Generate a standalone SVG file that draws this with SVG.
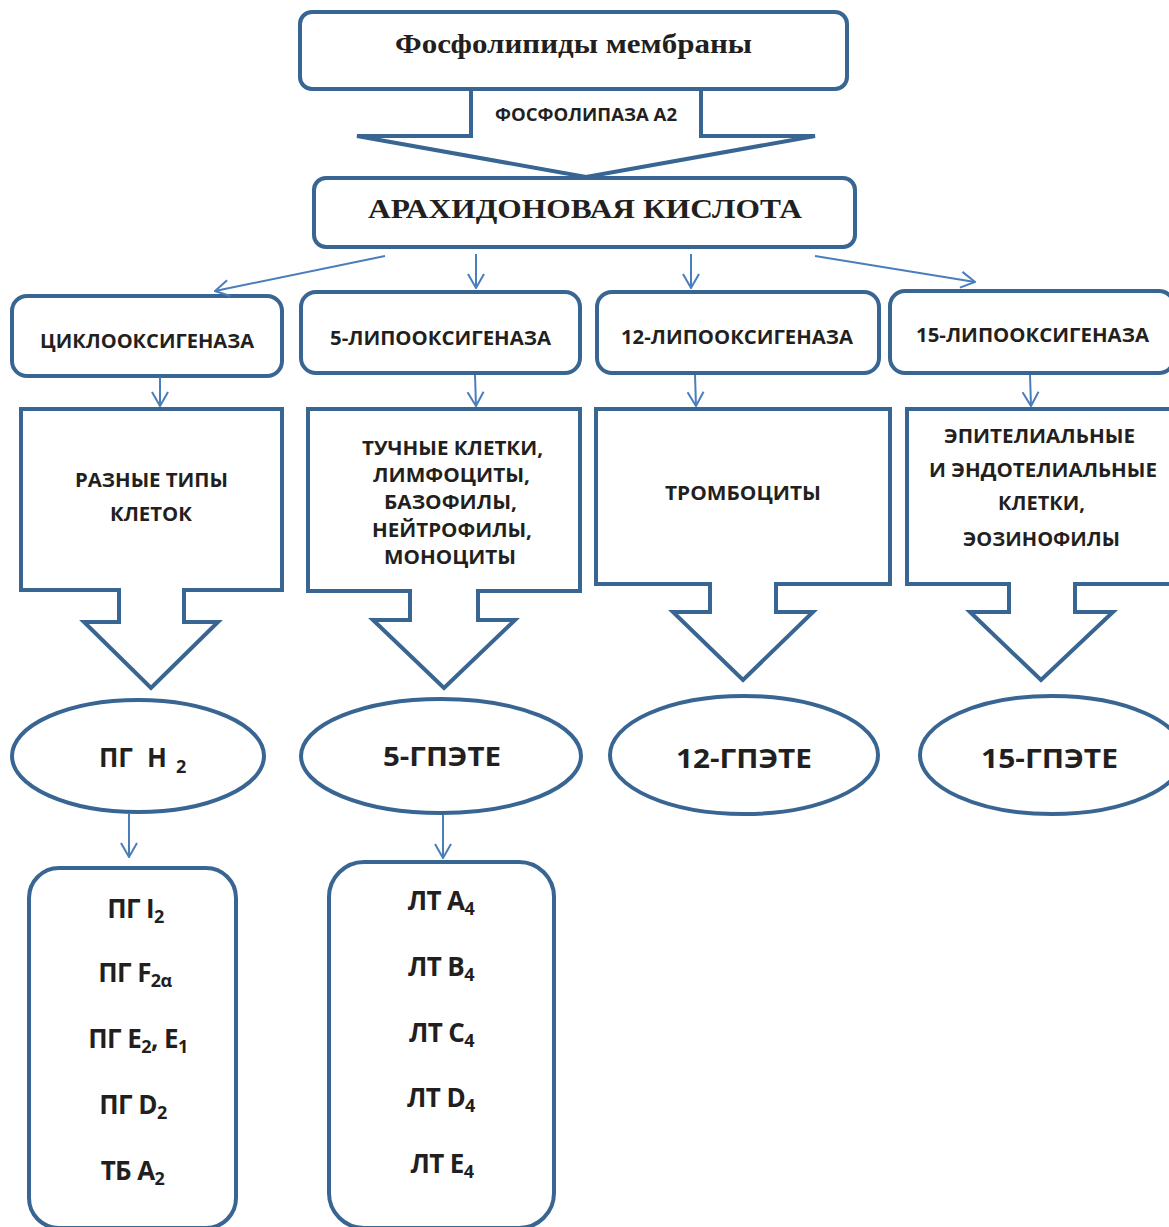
<svg xmlns="http://www.w3.org/2000/svg" width="1169" height="1227" viewBox="0 0 1169 1227">
<defs>
<style>
.box{fill:#fff;stroke:#386592;stroke-width:4}
.open{fill:none;stroke:#386592;stroke-width:4;stroke-linejoin:miter}
.conn{stroke:#4a7ebb;stroke-width:2;fill:none;marker-end:url(#ah)}
.t{font-family:"Open Sans","Noto Sans",sans-serif;font-weight:700;fill:#231f20;text-anchor:middle}
.s{font-family:"Liberation Serif","Times New Roman",serif;font-weight:700;fill:#231f20;text-anchor:middle}
.e{font-size:20px}
.m{font-size:26px}
.b{font-size:26px;letter-spacing:-0.6px}
.sub{font-size:18px;letter-spacing:-0.5px}
.sub2{font-size:18px}
</style>
<marker id="ah" markerUnits="userSpaceOnUse" markerWidth="16" markerHeight="20" viewBox="0 0 16 20" refX="15" refY="10" orient="auto">
<path d="M1,2 L15,10 L1,18" fill="none" stroke="#4a7ebb" stroke-width="2"/>
</marker>
</defs>
<rect width="1169" height="1227" fill="#fff"/>

<g id="phospholipids">
<rect class="box" x="300" y="12" width="547" height="77" rx="12"/>
<text class="s" x="573.5" y="53" font-size="28" textLength="357" lengthAdjust="spacingAndGlyphs">Фосфолипиды мембраны</text>
</g>

<g id="phospholipase">
<path class="open" d="M471,89 V136 H357 L586,177 L815,136 H701 V89"/>
<text class="t" x="586" y="121" font-size="18" textLength="182" lengthAdjust="spacingAndGlyphs">ФОСФОЛИПАЗА А2</text>
</g>

<g id="arachidonic">
<rect class="box" x="314" y="178" width="541" height="69" rx="12"/>
<text class="s" x="585" y="218" font-size="28" textLength="434" lengthAdjust="spacingAndGlyphs">АРАХИДОНОВАЯ КИСЛОТА</text>
</g>

<g id="cox">
<rect class="box" x="12" y="296" width="270" height="80" rx="15"/>
<text class="t e" x="147" y="348" textLength="214" lengthAdjust="spacingAndGlyphs">ЦИКЛООКСИГЕНАЗА</text>
</g>
<g id="lox5">
<rect class="box" x="301" y="292" width="279" height="81" rx="15"/>
<text class="t e" x="440.5" y="345" textLength="221" lengthAdjust="spacingAndGlyphs">5-ЛИПООКСИГЕНАЗА</text>
</g>
<g id="lox12">
<rect class="box" x="597" y="292" width="282" height="81" rx="15"/>
<text class="t e" x="737" y="344" textLength="232" lengthAdjust="spacingAndGlyphs">12-ЛИПООКСИГЕНАЗА</text>
</g>
<g id="lox15">
<rect class="box" x="890" y="291" width="284" height="82" rx="15"/>
<text class="t e" x="1032.5" y="342" textLength="233" lengthAdjust="spacingAndGlyphs">15-ЛИПООКСИГЕНАЗА</text>
</g>

<g id="cells1">
<path class="box" d="M21,409 H282 V590 H184 V622 H218 L151,688 L84,622 H119 V590 H21 Z"/>
<text class="t e" x="151.5" y="487" textLength="153" lengthAdjust="spacingAndGlyphs">РАЗНЫЕ ТИПЫ</text>
<text class="t e" x="151" y="521" textLength="82" lengthAdjust="spacingAndGlyphs">КЛЕТОК</text>
</g>
<g id="cells2">
<path class="box" d="M308,409 H580 V591 H478 V620 H515 L444,688 L373,620 H410 V591 H308 Z"/>
<text class="t e" x="452.5" y="455" textLength="181" lengthAdjust="spacingAndGlyphs">ТУЧНЫЕ КЛЕТКИ,</text>
<text class="t e" x="451.5" y="482" textLength="157" lengthAdjust="spacingAndGlyphs">ЛИМФОЦИТЫ,</text>
<text class="t e" x="450.5" y="509" textLength="133" lengthAdjust="spacingAndGlyphs">БАЗОФИЛЫ,</text>
<text class="t e" x="452" y="537" textLength="160" lengthAdjust="spacingAndGlyphs">НЕЙТРОФИЛЫ,</text>
<text class="t e" x="450" y="564" textLength="132" lengthAdjust="spacingAndGlyphs">МОНОЦИТЫ</text>
</g>
<g id="cells3">
<path class="box" d="M596,409 H890 V584 H776 V612 H813 L743,680 L673,612 H710 V584 H596 Z"/>
<text class="t e" x="743" y="500" textLength="156" lengthAdjust="spacingAndGlyphs">ТРОМБОЦИТЫ</text>
</g>
<g id="cells4">
<path class="box" d="M907,409 H1180 V584 H1075 V612 H1113 L1041,680 L970,612 H1009 V584 H907 Z"/>
<text class="t e" x="1039.5" y="443" textLength="191" lengthAdjust="spacingAndGlyphs">ЭПИТЕЛИАЛЬНЫЕ</text>
<text class="t e" x="1043" y="477" textLength="228" lengthAdjust="spacingAndGlyphs">И ЭНДОТЕЛИАЛЬНЫЕ</text>
<text class="t e" x="1041.5" y="510" textLength="87" lengthAdjust="spacingAndGlyphs">КЛЕТКИ,</text>
<text class="t e" x="1041.5" y="546" textLength="157" lengthAdjust="spacingAndGlyphs">ЭОЗИНОФИЛЫ</text>
</g>

<g id="pgh2">
<ellipse class="box" cx="138" cy="756" rx="126" ry="56"/>
<text class="t m" style="text-anchor:start"><tspan x="99" y="767">ПГ</tspan><tspan x="147" y="767">Н</tspan><tspan class="sub2" x="176" y="773">2</tspan></text>
</g>
<g id="hpete5">
<ellipse class="box" cx="441" cy="756" rx="140" ry="57"/>
<text class="t m" x="442" y="766" textLength="118" lengthAdjust="spacingAndGlyphs">5-ГПЭТЕ</text>
</g>
<g id="hpete12">
<ellipse class="box" cx="744" cy="755" rx="134" ry="59"/>
<text class="t m" x="744" y="768" textLength="136" lengthAdjust="spacingAndGlyphs">12-ГПЭТЕ</text>
</g>
<g id="hpete15">
<ellipse class="box" cx="1052" cy="755" rx="132" ry="59"/>
<text class="t m" x="1049.5" y="768" textLength="137" lengthAdjust="spacingAndGlyphs">15-ГПЭТЕ</text>
</g>

<g id="prostanoids">
<rect class="box" x="29" y="868" width="207" height="360" rx="30"/>
<text class="t b" x="135.5" y="918">ПГ I<tspan class="sub" dy="5">2</tspan></text>
<text class="t b" x="135" y="982">ПГ F<tspan class="sub" dy="5">2α</tspan></text>
<text class="t b" x="138" y="1048">ПГ E<tspan class="sub" dy="5">2</tspan><tspan dy="-5">, E</tspan><tspan class="sub" dy="5">1</tspan></text>
<text class="t b" x="133" y="1114">ПГ D<tspan class="sub" dy="5">2</tspan></text>
<text class="t b" x="132.5" y="1180">ТБ A<tspan class="sub" dy="5">2</tspan></text>
</g>
<g id="leukotrienes">
<rect class="box" x="329" y="862" width="225" height="366" rx="35"/>
<text class="t b" x="441" y="910">ЛТ A<tspan class="sub" dy="5">4</tspan></text>
<text class="t b" x="441" y="976">ЛТ B<tspan class="sub" dy="5">4</tspan></text>
<text class="t b" x="441.5" y="1042">ЛТ C<tspan class="sub" dy="5">4</tspan></text>
<text class="t b" x="441" y="1107">ЛТ D<tspan class="sub" dy="5">4</tspan></text>
<text class="t b" x="442" y="1173">ЛТ E<tspan class="sub" dy="5">4</tspan></text>
</g>

<g id="connectors">
<line class="conn" x1="385" y1="256" x2="215" y2="291"/>
<line class="conn" x1="476" y1="254" x2="476" y2="288"/>
<line class="conn" x1="691" y1="254" x2="691" y2="288"/>
<line class="conn" x1="815" y1="256" x2="975" y2="282"/>
<line class="conn" x1="160" y1="377" x2="160" y2="406"/>
<line class="conn" x1="475" y1="375" x2="476" y2="406"/>
<line class="conn" x1="695" y1="375" x2="696" y2="406"/>
<line class="conn" x1="1030" y1="375" x2="1031" y2="406"/>
<line class="conn" x1="129" y1="814" x2="129" y2="857"/>
<line class="conn" x1="443" y1="815" x2="443" y2="858"/>
</g>
</svg>
